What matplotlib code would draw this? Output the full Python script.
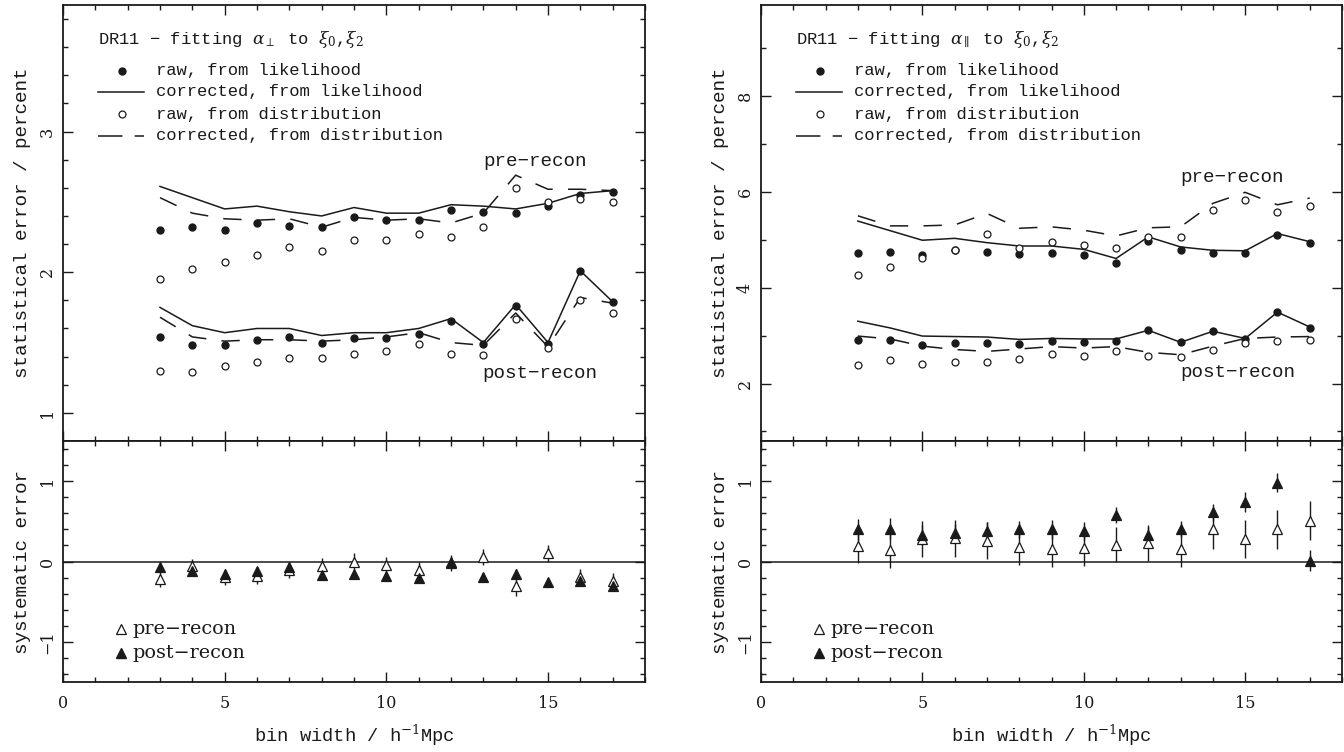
import matplotlib
matplotlib.use('Agg')
import matplotlib.pyplot as plt
from matplotlib.ticker import MultipleLocator

# ---------------- data ----------------
bin_width = [3, 4, 5, 6, 7, 8, 9, 10, 11, 12, 13, 14, 15, 16, 17]

# alpha_perp, statistical error (percent)
perp_pre_raw_like = [2.30, 2.32, 2.30, 2.35, 2.33, 2.32, 2.39, 2.37, 2.37, 2.44, 2.43, 2.42, 2.47, 2.55, 2.57]
perp_pre_corr_like = [2.61, 2.53, 2.45, 2.47, 2.43, 2.40, 2.46, 2.42, 2.42, 2.48, 2.47, 2.45, 2.49, 2.56, 2.58]
perp_pre_raw_dist = [1.95, 2.02, 2.07, 2.12, 2.18, 2.15, 2.23, 2.23, 2.27, 2.25, 2.32, 2.60, 2.50, 2.52, 2.50]
perp_pre_corr_dist = [2.53, 2.42, 2.38, 2.37, 2.38, 2.32, 2.39, 2.37, 2.38, 2.35, 2.42, 2.69, 2.59, 2.59, 2.58]
perp_post_raw_like = [1.54, 1.48, 1.48, 1.52, 1.54, 1.50, 1.53, 1.53, 1.56, 1.65, 1.49, 1.76, 1.49, 2.01, 1.79]
perp_post_corr_like = [1.75, 1.62, 1.57, 1.60, 1.60, 1.55, 1.57, 1.57, 1.60, 1.67, 1.50, 1.77, 1.50, 2.01, 1.79]
perp_post_raw_dist = [1.30, 1.29, 1.33, 1.36, 1.39, 1.39, 1.42, 1.44, 1.49, 1.42, 1.41, 1.67, 1.46, 1.80, 1.71]
perp_post_corr_dist = [1.68, 1.54, 1.51, 1.52, 1.52, 1.51, 1.52, 1.54, 1.57, 1.50, 1.48, 1.71, 1.47, 1.82, 1.78]

# alpha_parallel, statistical error (percent)
par_pre_raw_like = [4.73, 4.75, 4.69, 4.78, 4.75, 4.70, 4.73, 4.68, 4.52, 4.98, 4.78, 4.73, 4.73, 5.10, 4.94]
par_pre_corr_like = [5.39, 5.19, 4.99, 5.03, 4.94, 4.87, 4.87, 4.80, 4.61, 5.06, 4.85, 4.78, 4.77, 5.13, 4.96]
par_pre_raw_dist = [4.26, 4.43, 4.62, 4.78, 5.12, 4.83, 4.96, 4.89, 4.82, 5.06, 5.06, 5.62, 5.82, 5.57, 5.71]
par_pre_corr_dist = [5.50, 5.29, 5.29, 5.31, 5.55, 5.24, 5.27, 5.20, 5.08, 5.25, 5.27, 5.76, 5.99, 5.73, 5.87]
par_post_raw_like = [2.90, 2.91, 2.81, 2.84, 2.84, 2.83, 2.88, 2.86, 2.88, 3.11, 2.86, 3.09, 2.93, 3.49, 3.16]
par_post_corr_like = [3.30, 3.16, 2.99, 2.98, 2.97, 2.92, 2.94, 2.93, 2.93, 3.11, 2.86, 3.09, 2.94, 3.49, 3.18]
par_post_raw_dist = [2.39, 2.49, 2.41, 2.44, 2.44, 2.51, 2.62, 2.58, 2.67, 2.57, 2.55, 2.69, 2.85, 2.88, 2.90]
par_post_corr_dist = [2.99, 2.93, 2.78, 2.71, 2.67, 2.72, 2.77, 2.74, 2.77, 2.65, 2.60, 2.78, 2.94, 2.97, 2.98]

# systematic errors
perp_sys_pre = [-0.22, -0.06, -0.19, -0.18, -0.10, -0.06, 0.00, -0.04, -0.10, -0.02, 0.06, -0.31, 0.10, -0.19, -0.24]
perp_sys_pre_err = [0.10, 0.09, 0.10, 0.10, 0.10, 0.10, 0.10, 0.10, 0.10, 0.10, 0.10, 0.12, 0.10, 0.10, 0.10]
perp_sys_post = [-0.07, -0.12, -0.15, -0.12, -0.07, -0.17, -0.15, -0.18, -0.20, 0.00, -0.19, -0.15, -0.25, -0.24, -0.31]
perp_sys_post_err = [0.06, 0.05, 0.05, 0.05, 0.05, 0.05, 0.05, 0.05, 0.05, 0.05, 0.05, 0.06, 0.05, 0.06, 0.06]
par_sys_pre = [0.19, 0.14, 0.28, 0.29, 0.26, 0.18, 0.16, 0.17, 0.21, 0.23, 0.15, 0.40, 0.28, 0.40, 0.51]
par_sys_pre_err = [0.21, 0.22, 0.22, 0.23, 0.23, 0.22, 0.23, 0.22, 0.22, 0.22, 0.22, 0.24, 0.24, 0.24, 0.24]
par_sys_post = [0.40, 0.41, 0.33, 0.35, 0.38, 0.40, 0.40, 0.38, 0.58, 0.33, 0.40, 0.61, 0.74, 0.98, 0.01]
par_sys_post_err = [0.13, 0.13, 0.12, 0.12, 0.11, 0.11, 0.12, 0.11, 0.10, 0.10, 0.10, 0.11, 0.12, 0.12, 0.13]

legend_labels = ["raw, from likelihood", "corrected, from likelihood",
                 "raw, from distribution", "corrected, from distribution"]
titles = [r"DR11 − fitting $\alpha_\perp$ to $\xi_0$,$\xi_2$",
          r"DR11 − fitting $\alpha_\parallel$ to $\xi_0$,$\xi_2$"]

# ---------------- style ----------------
MONO = ['Liberation Mono', 'DejaVu Sans Mono']
SERIF = ['DejaVu Serif']
plt.rcParams['mathtext.fontset'] = 'dejavuserif'
INK = '#1a1a1a'
DASH = (0, (12, 10))

fig = plt.figure(figsize=(13.44, 7.52), dpi=100)

W = 1344.0
H = 752.0
def axrect(x0, y0, x1, y1):
    return [x0 / W, 1 - y1 / H, (x1 - x0) / W, (y1 - y0) / H]

ax_tl = fig.add_axes(axrect(63, 5, 645, 441))
ax_bl = fig.add_axes(axrect(63, 441, 645, 682))
ax_tr = fig.add_axes(axrect(761, 5, 1342, 441))
ax_br = fig.add_axes(axrect(761, 441, 1342, 682))


def style(ax, ylim, ymaj, ymin, xlabels):
    ax.set_xlim(0, 18)
    ax.set_ylim(*ylim)
    ax.xaxis.set_major_locator(MultipleLocator(5))
    ax.xaxis.set_minor_locator(MultipleLocator(1))
    ax.yaxis.set_major_locator(MultipleLocator(ymaj))
    ax.yaxis.set_minor_locator(MultipleLocator(ymin))
    ax.tick_params(which='both', direction='in', top=True, right=True,
                   width=1, color=INK, labelcolor=INK)
    ax.tick_params(which='major', length=7.5)
    ax.tick_params(which='minor', length=3.8)
    ax.tick_params(axis='y', labelrotation=90, pad=5)
    ax.tick_params(axis='x', pad=9)
    if not xlabels:
        ax.tick_params(axis='x', labelbottom=False)
    for s in ax.spines.values():
        s.set_linewidth(1.3)
        s.set_color(INK)
    for lab in ax.get_yticklabels() + ax.get_xticklabels():
        lab.set_fontfamily(SERIF)
        lab.set_fontsize(11.5)
    for lab in ax.get_yticklabels():
        lab.set_va('center')


def top_panel(ax, raw_like_pre, corr_like_pre, raw_dist_pre, corr_dist_pre,
              raw_like_post, corr_like_post, raw_dist_post, corr_dist_post,
              title, pre_pos, post_pos):
    for rl, cl, rd, cd in ((raw_like_pre, corr_like_pre, raw_dist_pre, corr_dist_pre),
                           (raw_like_post, corr_like_post, raw_dist_post, corr_dist_post)):
        ax.plot(bin_width, cl, '-', color=INK, lw=1.1)
        ax.plot(bin_width, cd, color=INK, lw=1.1, ls=DASH)
        ax.plot(bin_width, rl, 'o', color=INK, ms=5, mec=INK)
        ax.plot(bin_width, rd, 'o', mfc='white', mec=INK, ms=5, mew=0.9)
    tr = ax.transAxes
    ax.text(0.060, 0.920, title, transform=tr, fontfamily=MONO, fontsize=12.3,
            va='center', ha='left', color=INK)
    ys = [0.849, 0.801, 0.750, 0.700]
    ax.plot([0.101], [ys[0]], 'o', transform=tr, color=INK, ms=5)
    ax.plot([0.060, 0.139], [ys[1], ys[1]], '-', transform=tr, color=INK, lw=1.1)
    ax.plot([0.101], [ys[2]], 'o', transform=tr, mfc='white', mec=INK, ms=5, mew=0.9)
    ax.plot([0.060, 0.139], [ys[3], ys[3]], transform=tr, color=INK, lw=1.1,
            ls=(0, (16, 8)))
    for y, lab in zip(ys, legend_labels):
        ax.text(0.160, y, lab, transform=tr, fontfamily=MONO, fontsize=12.3,
                va='center', ha='left', color=INK)
    ax.text(pre_pos[0], pre_pos[1], "pre−recon", fontfamily=MONO, fontsize=13.8,
            ha='center', va='center', color=INK)
    ax.text(post_pos[0], post_pos[1], "post−recon", fontfamily=MONO, fontsize=13.8,
            ha='center', va='center', color=INK)
    ax.set_ylabel("statistical error / percent", fontfamily=MONO, fontsize=13.9,
                  color=INK, labelpad=6)


def bottom_panel(ax, pre, pre_err, post, post_err):
    ax.axhline(0, color=INK, lw=1.1)
    ax.errorbar(bin_width, pre, yerr=pre_err, fmt='^', mfc='white', mec=INK,
                ecolor=INK, elinewidth=1, capsize=0, ms=7.5, mew=0.9)
    ax.errorbar(bin_width, post, yerr=post_err, fmt='^', mfc=INK, mec=INK,
                ecolor=INK, elinewidth=1, capsize=0, ms=7.5, mew=0.9)
    tr = ax.transAxes
    ax.plot([0.0997], [0.219], '^', transform=tr, mfc='white', mec=INK, ms=7.5, mew=0.9)
    ax.plot([0.0997], [0.122], '^', transform=tr, mfc=INK, mec=INK, ms=7.5)
    ax.text(0.119, 0.219, "pre−recon", transform=tr, fontfamily=SERIF, fontsize=13.8,
            va='center', ha='left', color=INK)
    ax.text(0.119, 0.122, "post−recon", transform=tr, fontfamily=SERIF, fontsize=13.8,
            va='center', ha='left', color=INK)
    ax.set_ylabel("systematic error", fontfamily=MONO, fontsize=13.9, color=INK,
                  labelpad=6)
    ax.set_xlabel(r"bin width / h$^{-1}$Mpc", fontfamily=MONO, fontsize=13.5,
                  color=INK, labelpad=8)


top_panel(ax_tl, perp_pre_raw_like, perp_pre_corr_like, perp_pre_raw_dist, perp_pre_corr_dist,
          perp_post_raw_like, perp_post_corr_like, perp_post_raw_dist, perp_post_corr_dist,
          titles[0], (14.6, 2.79), (14.75, 1.28))
top_panel(ax_tr, par_pre_raw_like, par_pre_corr_like, par_pre_raw_dist, par_pre_corr_dist,
          par_post_raw_like, par_post_corr_like, par_post_raw_dist, par_post_corr_dist,
          titles[1], (14.6, 6.31), (14.77, 2.22))
bottom_panel(ax_bl, perp_sys_pre, perp_sys_pre_err, perp_sys_post, perp_sys_post_err)
bottom_panel(ax_br, par_sys_pre, par_sys_pre_err, par_sys_post, par_sys_post_err)

style(ax_tl, (0.8, 3.9), 1, 0.2, False)
style(ax_tr, (0.8, 9.9), 2, 1, False)
style(ax_bl, (-1.5, 1.5), 1, 0.2, True)
style(ax_br, (-1.5, 1.5), 1, 0.2, True)

fig.savefig("out.png", dpi=100)
